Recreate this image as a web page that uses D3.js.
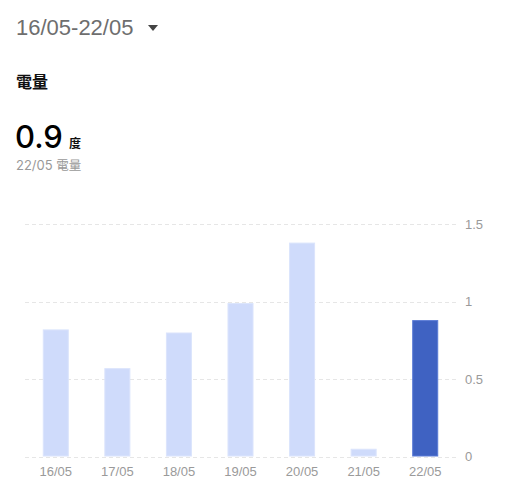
<!DOCTYPE html>
<html>
<head>
<meta charset="utf-8">
<script src="https://cdn.jsdelivr.net/npm/d3@7"></script>
<style>
  html, body { margin: 0; padding: 0; background: #fff; }
  svg { display: block; font-family: "Liberation Sans", Arial, "Noto Sans CJK TC", sans-serif; }
</style>
</head>
<body>
<svg id="chart" width="517" height="500"></svg>
<script>
const categories = ["16/05", "17/05", "18/05", "19/05", "20/05", "21/05", "22/05"];
const values = [0.82, 0.57, 0.80, 0.99, 1.38, 0.05, 0.88];
const yTicks = [0, 0.5, 1, 1.5];
const yTickLabels = ["0", "0.5", "1", "1.5"];
const selectedIndex = 6;
const rangeLabel = "16/05-22/05";
const metricTitle = "電量";
const bigValue = "0.9";
const unitLabel = "度";
const subDate = "22/05";
const subMetric = "電量";

const svg = d3.select("#chart");
const cjk = '"Noto Sans CJK TC", "Noto Sans CJK SC", sans-serif';

// Header
svg.append("text").attr("x", 16).attr("y", 35)
  .attr("font-size", 22).attr("fill", "#6e6e6e").text(rangeLabel);
svg.append("path").attr("d", "M148,25 L158,25 L153,31 Z").attr("fill", "#444");

svg.append("text").attr("x", 16).attr("y", 88)
  .attr("font-size", 16).attr("font-weight", "bold").attr("font-family", cjk)
  .attr("fill", "#111").text(metricTitle);

svg.append("text").attr("x", 15).attr("y", 148)
  .attr("font-size", 31).attr("font-weight", 500).attr("font-family", "Inter, sans-serif")
  .attr("fill", "#000").text(bigValue);
svg.append("text").attr("x", 69).attr("y", 148)
  .attr("font-size", 12).attr("font-weight", "bold").attr("font-family", cjk).attr("fill", "#111").text(unitLabel);

const sub = svg.append("text").attr("x", 16).attr("y", 170)
  .attr("font-size", 13).attr("fill", "#999").attr("font-family", "Inter, sans-serif");
sub.append("tspan").text(subDate + " ");
sub.append("tspan").attr("font-family", cjk).attr("font-size", 12.5).text(subMetric);

// Scales
const x = d3.scaleBand().domain(categories).range([25, 456])
  .paddingInner(0.577).paddingOuter(0.2885);
const y = d3.scaleLinear().domain([0, 1.5]).range([456.5, 224]);

// Grid
const grid = svg.append("g");
grid.selectAll("line").data(yTicks).join("line")
  .attr("x1", 25).attr("x2", 456)
  .attr("y1", d => Math.round(y(d)) + 0.5).attr("y2", d => Math.round(y(d)) + 0.5)
  .attr("stroke", "#e6e6e6").attr("stroke-width", 1).attr("stroke-dasharray", "4,3");

// Y axis labels (right)
const yAxis = d3.axisRight(y).tickValues(yTicks).tickFormat((d, i) => yTickLabels[i]).tickSize(0).tickPadding(0);
const ya = svg.append("g").attr("transform", "translate(465,0)").call(yAxis);
ya.select(".domain").remove();
ya.selectAll("text").attr("font-size", 13).attr("fill", "#9a9a9a").attr("font-family", null);

// Bars
svg.append("g").selectAll("rect").data(values).join("rect")
  .attr("x", (d, i) => x(categories[i]) + 0.5)
  .attr("y", d => y(d) + 0.5)
  .attr("width", x.bandwidth() - 1)
  .attr("height", d => Math.max(0, y(0) - y(d) - 1))
  .attr("fill", (d, i) => i === selectedIndex ? "#3f62c2" : "#cfdbfb")
  .attr("stroke", (d, i) => i === selectedIndex ? "#5a7bd6" : "#dbe4fc")
  .attr("stroke-width", 1);

// X axis labels
const xAxis = d3.axisBottom(x).tickSize(0).tickPadding(0);
const xa = svg.append("g").attr("transform", "translate(0,467)").call(xAxis);
xa.select(".domain").remove();
xa.selectAll("text").attr("font-size", 13).attr("fill", "#9a9a9a").attr("font-family", null)
  .attr("dy", "0.71em");
</script>
</body>
</html>
